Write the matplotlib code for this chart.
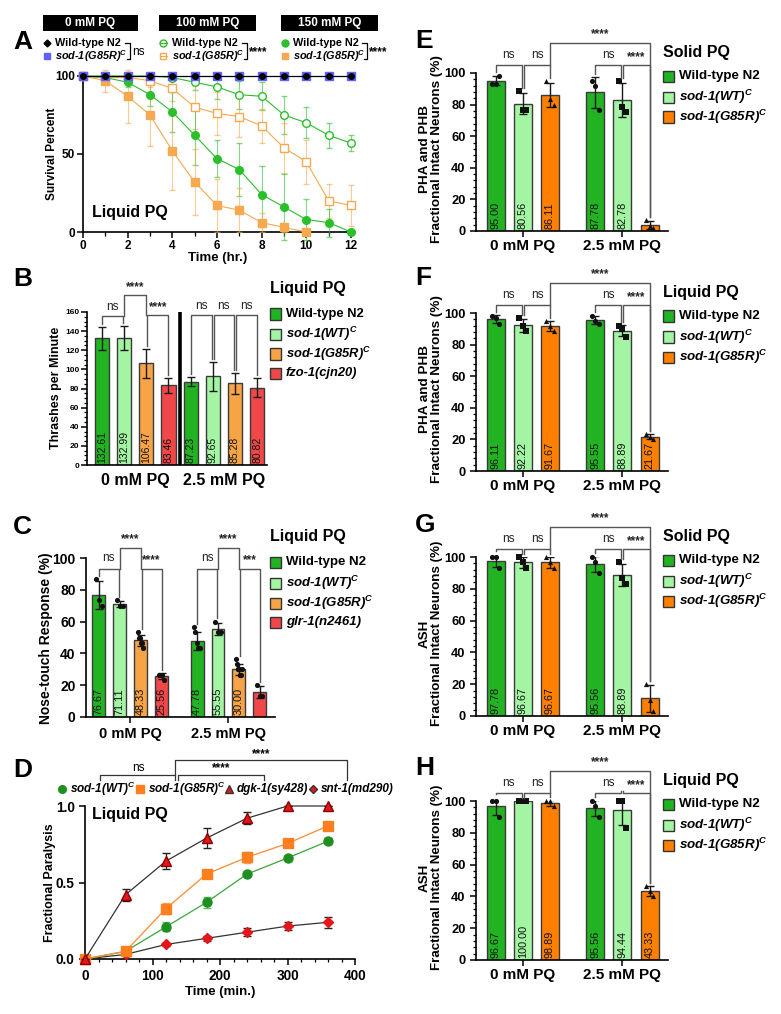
import numpy as np
import matplotlib
matplotlib.use('Agg')
import matplotlib.pyplot as plt
from matplotlib.patches import Rectangle
from matplotlib.lines import Line2D
from matplotlib.ticker import MultipleLocator, AutoMinorLocator

plt.rcParams['font.family'] = ['Liberation Sans', 'DejaVu Sans']
plt.rcParams['font.weight'] = 'bold'
plt.rcParams['axes.labelweight'] = 'bold'
plt.rcParams['mathtext.fontset'] = 'custom'
plt.rcParams['mathtext.it'] = 'Liberation Sans:italic:bold'
plt.rcParams['mathtext.rm'] = 'Liberation Sans:bold'
plt.rcParams['mathtext.bf'] = 'Liberation Sans:bold'
plt.rcParams['axes.linewidth'] = 1.2
plt.rcParams['xtick.major.width'] = 1.1
plt.rcParams['ytick.major.width'] = 1.1
plt.rcParams['xtick.minor.width'] = 0.9
plt.rcParams['ytick.minor.width'] = 0.9

# ---------------- data ----------------
# A: survival in liquid paraquat
hours = np.arange(13)
a_wt0 = [100] * 13
a_g85r0 = [100] * 13
a_wt100 = [100, 100, 100, 100, 99, 96, 93, 88, 87, 75, 70, 62, 57]
a_wt100_err = [0, 0, 0, 0, 2, 5, 8, 9, 9, 12, 10, 8, 5]
a_g85r100 = [100, 99, 99, 97, 92, 80, 76, 74, 68, 54, 45, 20, 17]
a_g85r100_err = [0, 2, 3, 4, 8, 14, 14, 13, 11, 16, 14, 11, 13]
a_wt150 = [100, 99, 96, 88, 77, 62, 47, 40, 24, 16, 8, 6, 0]
a_wt150_err = [0, 1, 3, 7, 13, 19, 12, 17, 18, 21, 13, 9, 0]
a_g85r150 = [100, 97, 87, 75, 52, 32, 17, 14, 6, 3, 0]
a_g85r150_err = [0, 7, 17, 20, 25, 21, 17, 14, 6, 3, 0]

# B: thrashing
b_means = [132.61, 132.99, 106.47, 83.46, 87.23, 92.65, 85.28, 80.82]
b_errs = [12, 12.5, 15, 8, 5, 15.5, 11, 10]

# C: nose touch
c_means = [76.67, 71.11, 48.33, 25.56, 47.78, 55.55, 30.00, 15.56]
c_pts = [[86.67, 73.33, 70], [73.33, 70, 70],
         [53.33, 50, 50, 46.67, 46.67, 43.33], [26.67, 26.67, 23.33],
         [56.67, 53.33, 46.67, 43.33, 43.33, 43.33], [60, 53.33, 53.33],
         [36.67, 33.33, 30, 30, 30, 26.67, 26.67, 26.67, 30], [20, 13.33, 13.33]]
c_show = [True] * 7 + [False]

# D: paralysis
d_time = [0, 60, 120, 180, 240, 300, 360]
d_wt = [0, 0.05, 0.21, 0.37, 0.555, 0.66, 0.77]
d_wt_err = [0, 0.01, 0.03, 0.035, 0.01, 0.015, 0.02]
d_g85r = [0, 0.05, 0.33, 0.555, 0.665, 0.755, 0.87]
d_g85r_err = [0, 0.01, 0.035, 0.02, 0.035, 0.015, 0.01]
d_dgk = [0, 0.42, 0.64, 0.79, 0.92, 1.0, 1.0]
d_dgk_err = [0, 0.04, 0.05, 0.065, 0.04, 0, 0]
d_snt = [0, 0.03, 0.095, 0.135, 0.175, 0.215, 0.24]
d_snt_err = [0, 0.01, 0.01, 0.015, 0.025, 0.025, 0.035]

# E-H: neuron integrity
e_means = [95.00, 80.56, 86.11, 87.78, 82.78, 3.89]
e_pts = [[93.33, 93.33, 98.33], [88.33, 76.67, 76.67], [95, 83.33, 80],
         [95, 91.67, 76.67], [95, 78.33, 75], [6.67, 3.33, 1.67]]
e_show = [True] * 5 + [False]
f_means = [96.11, 92.22, 91.67, 95.55, 88.89, 21.67]
f_pts = [[98.33, 96.67, 93.33], [96.67, 91.67, 88.33], [95, 91.67, 88.33],
         [98.33, 95, 93.33], [91.67, 90, 85], [23.33, 21.67, 20]]
g_means = [97.78, 96.67, 96.67, 95.56, 88.89, 11.11]
g_pts = [[100, 100, 93.33], [100, 96.67, 93.33], [100, 96.67, 93.33],
         [100, 96.67, 90], [96.67, 86.67, 83.33], [20, 10, 3.33]]
g_show = [True] * 5 + [False]
h_means = [96.67, 100.00, 98.89, 95.56, 94.44, 43.33]
h_pts = [[100, 100, 90], [100, 100, 100], [100, 100, 96.67],
         [100, 96.67, 90], [100, 100, 83.33], [46.67, 43.33, 40]]

lab4_b = ['Wild-type N2', 'sod-1(WT)$^{C}$', 'sod-1(G85R)$^{C}$', 'fzo-1(cjn20)']
lab4_c = ['Wild-type N2', 'sod-1(WT)$^{C}$', 'sod-1(G85R)$^{C}$', 'glr-1(n2461)']
lab3 = ['Wild-type N2', 'sod-1(WT)$^{C}$', 'sod-1(G85R)$^{C}$']
groups = ['0 mM PQ', '2.5 mM PQ']

DG, LG, OR, RD = '#22b322', '#a3f5a3', '#f7a446', '#f04848'
OR2 = '#ff8000'

W, H = 781, 1014
fig = plt.figure(figsize=(W / 100, H / 100), dpi=100)


def px_axes(x0, y0, x1, y1):
    ax = fig.add_axes([x0 / W, 1 - y1 / H, (x1 - x0) / W, (y1 - y0) / H])
    ax.spines['top'].set_visible(False)
    ax.spines['right'].set_visible(False)
    return ax


def ftext(x, y, s, **kw):
    return fig.text(x / W, 1 - y / H, s, **kw)


def fline(xs, ys, **kw):
    fig.add_artist(Line2D([x / W for x in xs], [1 - y / H for y in ys], **kw))


def frect(x, y, w, h, **kw):
    fig.add_artist(Rectangle((x / W, 1 - (y + h) / H), w / W, h / H,
                             transform=fig.transFigure, **kw))


def fmark(x, y, **kw):
    fig.add_artist(Line2D([x / W], [1 - y / H], **kw))


def legend_px(x, ty, title, ys, cols, labels, fs=9.5, tfs=11.5):
    ftext(x, ty, title, fontsize=tfs, va='center', ha='left')
    for yy, c, lab in zip(ys, cols, labels):
        frect(x, yy - 5.5, 11, 11, facecolor=c, edgecolor='#333333', lw=1)
        st = 'normal' if lab.startswith('Wild') else 'italic'
        ftext(x + 16, yy, lab, fontsize=fs, va='center', ha='left', style=st)


def bar_axes(box, pos, means, cols, ylim, ymaj, nminor, tick_fs, errs=None, pts=None,
             show=None, markers=('o', 's', '^'), label_fs=7.5, bw=0.66):
    ax = px_axes(*box)
    if errs is None:
        errs = [np.std(p, ddof=1) for p in pts]
    ax.bar(pos, means, width=bw, color=cols, edgecolor='#3a3a3a', linewidth=1.0, zorder=2)
    ax.errorbar(pos, means, yerr=errs, fmt='none', ecolor='#1a1a1a', elinewidth=1.0,
                capsize=3, capthick=1.0, zorder=4)
    if pts is not None:
        for i, (p, vals) in enumerate(zip(pos, pts)):
            n = len(vals)
            offs = np.linspace(-0.13, 0.13, n) if n > 1 else np.array([0.0])
            ax.scatter(p + offs, vals, s=14, marker=markers[i % len(markers)],
                       color='#111111', zorder=5, clip_on=False, linewidths=0)
    if show is None:
        show = [True] * len(means)
    for p, m, sh in zip(pos, means, show):
        if sh:
            ax.annotate('%.2f' % m, (p, 0), xytext=(0, 1.5), textcoords='offset points',
                        rotation=90, ha='center', va='bottom', fontsize=label_fs,
                        fontweight='normal', color='#111111', zorder=6)
    ax.set_ylim(*ylim)
    ax.yaxis.set_major_locator(MultipleLocator(ymaj))
    if nminor:
        ax.yaxis.set_minor_locator(AutoMinorLocator(nminor))
    ax.tick_params(axis='y', labelsize=tick_fs, length=4)
    ax.tick_params(axis='y', which='minor', length=2.5)
    tops = []
    for i, m in enumerate(means):
        t = m + errs[i]
        if pts is not None:
            t = max(t, max(pts[i]))
        tops.append(t)
    return ax, tops


def bracket(ax, x1, x2, y, l1, l2, s, dy, fs=8.5, color='#555555'):
    ax.plot([x1, x1, x2, x2], [l1, y, y, l2], color=color, lw=1.0, clip_on=False, zorder=5)
    wt = 'normal' if s == 'ns' else 'bold'
    ax.text((x1 + x2) / 2, y + dy, s, ha='center', va='bottom', fontsize=fs,
            fontweight=wt, clip_on=False, color='#222222')


# ---------------- Panel A ----------------
axA = px_axes(83, 76, 353, 232)
ga, oa = '#2bbf2b', '#f6a94e'
axA.errorbar(hours, a_wt100, yerr=a_wt100_err, color=ga, lw=0.8, marker='o', ms=5.5,
             mfc='white', mec=ga, ecolor=ga + '99', capsize=2.5, clip_on=False, zorder=3)
axA.errorbar(hours, a_g85r100, yerr=a_g85r100_err, color=oa, lw=0.8, marker='s', ms=5.5,
             mfc='white', mec=oa, ecolor=oa + '99', capsize=2.5, clip_on=False, zorder=3)
axA.errorbar(hours, a_wt150, yerr=a_wt150_err, color=ga, lw=0.8, marker='o', ms=5.5,
             ecolor=ga + '99', capsize=2.5, clip_on=False, zorder=3)
axA.errorbar(hours[:len(a_g85r150)], a_g85r150, yerr=a_g85r150_err, color=oa, lw=0.8,
             marker='s', ms=5.5, ecolor=oa + '99', capsize=2.5, clip_on=False, zorder=3)
axA.plot(hours, a_g85r0, color='#6060ff', lw=0, marker='s', ms=6, clip_on=False, zorder=5)
axA.plot(hours, a_wt0, color='black', lw=0.9, marker='o', ms=4, clip_on=False, zorder=6)
axA.set_xlim(0, 12.09)
axA.set_ylim(0, 100)
axA.xaxis.set_major_locator(MultipleLocator(2))
axA.xaxis.set_minor_locator(MultipleLocator(1))
axA.set_yticks([0, 50, 100])
axA.tick_params(labelsize=8.5, length=4, pad=2)
axA.tick_params(which='minor', length=3)
axA.set_xlabel('Time (hr.)', fontsize=9.5, labelpad=0)
ftext(52, 154, 'Survival Percent', rotation=90, ha='center', va='center', fontsize=8.5)
ftext(92, 213, 'Liquid PQ', fontsize=11.5, ha='left', va='center')

for x0, x1, s in [(43, 138, '0 mM PQ'), (159, 256, '100 mM PQ'), (281, 378, '150 mM PQ')]:
    frect(x0, 15, x1 - x0, 16, facecolor='black', edgecolor='none')
    ftext((x0 + x1) / 2, 23, s, color='white', fontsize=8.5, ha='center', va='center')

fmark(47, 43, marker='D', color='black', ms=3.5)
fmark(47, 56, marker='s', color='#6060ff', ms=5)
fmark(163, 43, marker='o', color=ga, mfc='none', ms=5, ls='-')
fline([159.5, 166.5], [43, 43], color=ga, lw=0.8)
fmark(163, 56, marker='s', color=oa, mfc='none', ms=5)
fline([159.5, 166.5], [56, 56], color=oa, lw=0.8)
fmark(285, 43, marker='o', color=ga, ms=5)
fmark(285, 56, marker='s', color=oa, ms=5)
for xm, xb, s in [(55, 130, 'ns'), (172, 247, '****'), (293, 367, '****')]:
    ftext(xm, 43, 'Wild-type N2', fontsize=7.8, ha='left', va='center')
    ftext(xm, 56, 'sod-1(G85R)$^{C}$', fontsize=7.8, ha='left', va='center', style='italic')
    fline([xb - 5, xb, xb, xb - 3], [43, 43, 59, 59], color='black', lw=0.9)
    ftext(xb + 2, 52, s, fontsize=8.5, ha='left', va='center',
          fontweight='normal' if s == 'ns' else 'bold')

# ---------------- Panel B ----------------
b_pos = np.arange(8)
axB, tB = bar_axes((87, 312, 267, 465), b_pos, b_means, [DG, LG, OR, RD] * 2, (0, 160), 20, 4,
                   6, errs=b_errs, label_fs=7.5, bw=0.64)
axB.set_xlim(-0.68, 7.45)
axB.axvline(3.5, color='black', lw=2.6, zorder=3)
axB.set_xticks([1.5, 5.5])
axB.set_xticklabels(groups, fontsize=11.5)
axB.tick_params(axis='x', length=0, pad=6)
axB.tick_params(axis='y', pad=1.5)
bracket(axB, 0, 0.96, 156, tB[0] + 3, tB[1] + 3, 'ns', 3)
bracket(axB, 1.0, 2.0, 178, 156, 157, '****', 2)
bracket(axB, 2.04, 3, 157, tB[2] + 3, tB[3] + 3, '****', 2)
bracket(axB, 4, 4.96, 157, tB[4] + 3, tB[5] + 3, 'ns', 3)
bracket(axB, 5.04, 5.96, 157, tB[5] + 3, tB[6] + 3, 'ns', 3)
bracket(axB, 6.04, 7, 157, tB[6] + 3, tB[7] + 3, 'ns', 3)
ftext(56, 388, 'Thrashes per Minute', rotation=90, ha='center', va='center', fontsize=9)
legend_px(270, 288, 'Liquid PQ', [314, 334, 354, 373], [DG, LG, OR, RD], lab4_b, fs=9.3)

# ---------------- Panel C ----------------
c_pos = np.array([0, 1, 2, 3, 4.7, 5.7, 6.7, 7.7])
axC, tC = bar_axes((86, 558, 275, 717), c_pos, c_means, [DG, LG, OR, RD] * 2, (0, 100), 20, 0,
                   10, pts=c_pts, show=c_show, markers=('o',), label_fs=7.8, bw=0.62)
axC.set_xlim(-0.62, 8.43)
axC.set_xticks([1.5, 6.2])
axC.set_xticklabels(groups, fontsize=10.5)
axC.tick_params(axis='x', length=4)
bracket(axC, 0, 0.95, 93, tC[0] + 2, tC[1] + 2, 'ns', 3)
bracket(axC, 1.0, 2.0, 106, 93, 93, '****', 2)
bracket(axC, 2.05, 3, 93, tC[2] + 2, tC[3] + 2, '****', 2)
bracket(axC, 4.7, 5.65, 93, tC[4] + 2, tC[5] + 2, 'ns', 3)
bracket(axC, 5.7, 6.7, 106, 93, 93, '****', 2)
bracket(axC, 6.75, 7.7, 93, tC[6] + 2, tC[7] + 2, '***', 2)
ftext(46, 638, 'Nose-touch Response (%)', rotation=90, ha='center', va='center', fontsize=10)
legend_px(270, 536, 'Liquid PQ', [562, 583, 603, 622], [DG, LG, OR, RD], lab4_c, fs=9.5)

# ---------------- Panel D ----------------
axD = px_axes(85, 806, 355, 959)
axD.errorbar(d_time, d_snt, yerr=d_snt_err, color='#333333', lw=0.9, marker='D', ms=5,
             mfc='#e4161b', mec='#e4161b', ecolor='#222222', capsize=3, clip_on=False, zorder=3)
axD.errorbar(d_time, d_wt, yerr=d_wt_err, color='#3aa63a', lw=0.9, marker='o', ms=6.5,
             mfc='#1f8f1f', mec='#1f8f1f', ecolor='#5fbf5f', capsize=3, clip_on=False, zorder=4)
axD.errorbar(d_time, d_g85r, yerr=d_g85r_err, color='#ff8a30', lw=0.9, marker='s', ms=6.5,
             mfc='#ff7f1e', mec='#ff7f1e', ecolor='#ffa060', capsize=3, clip_on=False, zorder=4)
axD.errorbar(d_time, d_dgk, yerr=d_dgk_err, color='#333333', lw=0.9, marker='^', ms=7,
             mfc='#e4161b', mec='#8a0000', ecolor='#222222', capsize=3, clip_on=False, zorder=5)
axD.set_xlim(0, 400)
axD.set_ylim(0, 1)
axD.xaxis.set_major_locator(MultipleLocator(100))
axD.xaxis.set_minor_locator(MultipleLocator(20))
axD.set_yticks([0, 0.5, 1.0])
axD.set_yticklabels(['0.0', '0.5', '1.0'])
axD.tick_params(labelsize=9.8, length=4)
axD.tick_params(which='minor', length=2.5)
axD.set_xlabel('Time (min.)', fontsize=9.5, labelpad=2)
ftext(50, 883, 'Fractional Paralysis', rotation=90, ha='center', va='center', fontsize=9)
ftext(92, 814, 'Liquid PQ', fontsize=11.5, ha='left', va='center')
d_leg = [(62, 'o', '#1f8f1f', 'sod-1(WT)$^{C}$'), (140, 's', '#ff7f1e', 'sod-1(G85R)$^{C}$'),
         (229, '^', '#e4161b', 'dgk-1(sy428)'), (313, 'D', '#e4161b', 'snt-1(md290)')]
for xm, mk, c, lab in d_leg:
    fmark(xm, 789, marker=mk, color=c, ms=5.5 if mk != 'D' else 4.5, mec='#333333' if mk in '^D' else c)
    ftext(xm + 8, 789, lab, fontsize=8.5, ha='left', va='center', style='italic')
fline([100, 100, 175, 175], [780, 775, 775, 780], color='#333333', lw=0.9)
ftext(138, 768, 'ns', fontsize=8.5, ha='center', va='center', fontweight='normal')
fline([178, 178, 264, 264], [780, 775, 775, 780], color='#333333', lw=0.9)
ftext(221, 768, '****', fontsize=8.5, ha='center', va='center')
fline([175, 175, 347, 347], [775, 760, 760, 780], color='#333333', lw=0.9)
ftext(261, 754, '****', fontsize=8.5, ha='center', va='center')

# ---------------- Panels E-H ----------------
eh_pos = np.array([0, 1, 2, 3.67, 4.67, 5.7])
eh_cols = [DG, LG, OR2, DG, LG, OR2]
eh_panels = [
    ('E', 73, 231, e_means, e_pts, e_show, 'Solid PQ', 'PHA and PHB', -3, 9.7),
    ('F', 313, 471, f_means, f_pts, None, 'Liquid PQ', 'PHA and PHB', -3, 9.7),
    ('G', 557, 716, g_means, g_pts, g_show, 'Solid PQ', 'ASH', -3, 9.6),
    ('H', 801, 960, h_means, h_pts, None, 'Liquid PQ', 'ASH', -3, 9.6),
]
for letter, ytop, ybot, means, pts, show, title, neuron, dyl, lfs in eh_panels:
    ax, t = bar_axes((476, ytop, 668, ybot), eh_pos, means, eh_cols, (0, 100), 20, 5, 9.3,
                     pts=pts, show=show, label_fs=7.8, bw=0.67)
    ax.set_xlim(-0.74, 6.37)
    ax.set_xticks([1, 4.67])
    ax.set_xticklabels(groups, fontsize=11)
    ax.tick_params(axis='x', length=4, pad=2)
    lo = 105
    bracket(ax, 0, 0.95, lo, t[0] + 2, t[1] + 2, 'ns', 2.5)
    bracket(ax, 1.05, 2, lo, t[1] + 2, t[2] + 2, 'ns', 2.5)
    bracket(ax, 2, 5.7, 119, lo, t[5] + 2, '****', 1.5)
    bracket(ax, 3.67, 4.62, lo, t[3] + 2, t[4] + 2, 'ns', 2.5)
    bracket(ax, 4.72, 5.7, lo, t[4] + 2, t[5] + 2, '****', 1.5)
    ymid = (ytop + ybot) / 2 + dyl
    ftext(431, ymid, neuron + '\nFractional Intact Neurons (%)', rotation=90, ha='center',
          va='center', fontsize=lfs, multialignment='center', linespacing=1.0)
    legend_px(663, ytop - 21, title, [ytop + 3, ytop + 24, ytop + 44], [DG, LG, OR2], lab3, fs=9.6)

# panel letters
for s, x, y in [('A', 13, 42), ('B', 13, 279), ('C', 13, 527), ('D', 13, 770),
                ('E', 415, 41), ('F', 415, 278), ('G', 415, 525), ('H', 415, 768)]:
    ftext(x, y, s, fontsize=19, ha='left', va='center')

fig.savefig('out.png', dpi=100)
